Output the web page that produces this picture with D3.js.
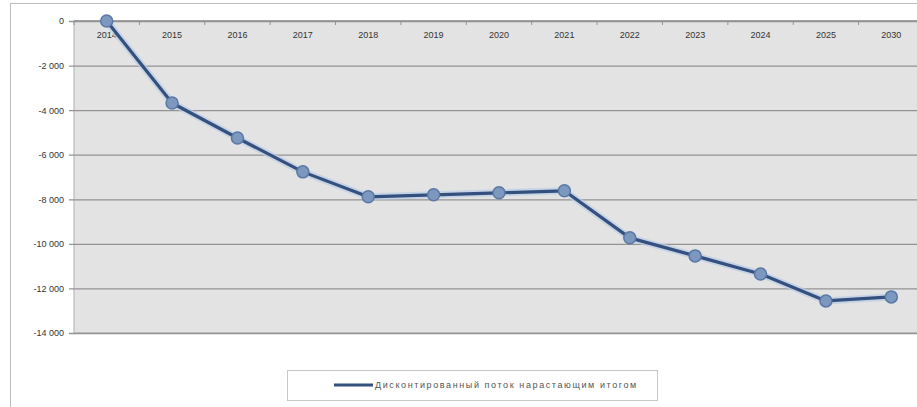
<!DOCTYPE html>
<html>
<head>
<meta charset="utf-8">
<script src="https://cdn.jsdelivr.net/npm/d3@7"></script>
<style>
  body { margin: 0; background: #fff; }
  svg { display: block; font-family: "Liberation Sans", Arial, sans-serif; }
</style>
</head>
<body>
<div id="chart"></div>
<script>
var w = 917;
var h = 407;

// categories and values (thousand rub, cumulative discounted flow)
var years = ["2014", "2015", "2016", "2017", "2018", "2019", "2020", "2021", "2022", "2023", "2024", "2025", "2030"];
var values = [0, -3680, -5250, -6770, -7890, -7800, -7710, -7620, -9730, -10540, -11350, -12560, -12380];
var yTicks = [0, -2000, -4000, -6000, -8000, -10000, -12000, -14000];
var seriesName = "Дисконтированный поток нарастающим итогом";

var plot = { left: 74, top: 21, right: 924, bottom: 333 };

var svg = d3.select("#chart").append("svg")
    .attr("width", w)
    .attr("height", h);

// outer chart frame
svg.append("rect")
    .attr("x", 10.5).attr("y", 3.5)
    .attr("width", 920).attr("height", 420)
    .attr("fill", "#fff")
    .attr("stroke", "#bdbdbd");

var x = d3.scaleBand()
    .domain(years)
    .range([plot.left, plot.right]);

var y = d3.scaleLinear()
    .domain([-14000, 0])
    .range([plot.bottom, plot.top]);

// plot background
svg.append("rect")
    .attr("x", plot.left).attr("y", plot.top)
    .attr("width", plot.right - plot.left).attr("height", plot.bottom - plot.top)
    .attr("fill", "#e3e3e3")
    .attr("stroke", "#b0b0b0");

// y axis with gridlines
var yAxis = svg.append("g")
    .attr("transform", "translate(" + plot.left + ",0)")
    .call(d3.axisLeft(y)
        .tickValues(yTicks)
        .tickSize(-(plot.right - plot.left))
        .tickPadding(10)
        .tickFormat(function(d){
            return d3.format(",")(d).replace(/,/g, " ").replace("−", "-");
        }));
yAxis.select(".domain").remove();
yAxis.selectAll(".tick line")
    .attr("x1", -5)
    .attr("stroke", "#939393")
    .attr("stroke-width", 1.3);
yAxis.selectAll(".tick text")
    .attr("font-size", 9)
    .attr("fill", "#333");

// x axis at zero, labels below the line
var xAxis = svg.append("g")
    .attr("transform", "translate(0," + y(0) + ")");
xAxis.append("line")
    .attr("x1", plot.left).attr("x2", plot.right)
    .attr("stroke", "#939393").attr("stroke-width", 1.3);
xAxis.selectAll("line.tk")
    .data(years)
    .enter()
    .append("line")
    .attr("class", "tk")
    .attr("x1", function(d){ return x(d); })
    .attr("x2", function(d){ return x(d); })
    .attr("y1", 0).attr("y2", 4)
    .attr("stroke", "#939393");
xAxis.selectAll("text")
    .data(years)
    .enter()
    .append("text")
    .attr("x", function(d){ return x(d) + x.bandwidth() / 2; })
    .attr("y", 17)
    .attr("text-anchor", "middle")
    .attr("font-size", 9)
    .attr("fill", "#333")
    .text(function(d){ return d; });

var cx = function(d, i){ return x(years[i]) + x.bandwidth() / 2; };
var line = d3.line()
    .x(cx)
    .y(function(d){ return y(d); });

// soft glow under the line
svg.append("path")
    .datum(values)
    .attr("d", line)
    .attr("fill", "none")
    .attr("stroke", "#b9cce6")
    .attr("stroke-width", 7)
    .attr("stroke-linejoin", "round")
    .attr("opacity", 0.7);

svg.append("path")
    .datum(values)
    .attr("d", line)
    .attr("fill", "none")
    .attr("stroke", "#34507f")
    .attr("stroke-width", 3.2)
    .attr("stroke-linejoin", "round");

svg.selectAll("circle.pt")
    .data(values)
    .enter()
    .append("circle")
    .attr("class", "pt")
    .attr("cx", cx)
    .attr("cy", function(d){ return y(d); })
    .attr("r", 6)
    .attr("fill", "#7d98bf")
    .attr("stroke", "#5a78a6")
    .attr("stroke-width", 1.5);

// legend
var lg = svg.append("g").attr("transform", "translate(287,370)");
lg.append("rect")
    .attr("x", 0.5).attr("y", 0.5)
    .attr("width", 370).attr("height", 30)
    .attr("fill", "#fff")
    .attr("stroke", "#c8c8c8");
lg.append("line")
    .attr("x1", 47).attr("x2", 86)
    .attr("y1", 15).attr("y2", 15)
    .attr("stroke", "#34507f")
    .attr("stroke-width", 3);
lg.append("text")
    .attr("x", 88).attr("y", 18)
    .attr("font-size", 9)
    .attr("letter-spacing", 1.6)
    .attr("fill", "#555")
    .text(seriesName);
</script>
</body>
</html>
